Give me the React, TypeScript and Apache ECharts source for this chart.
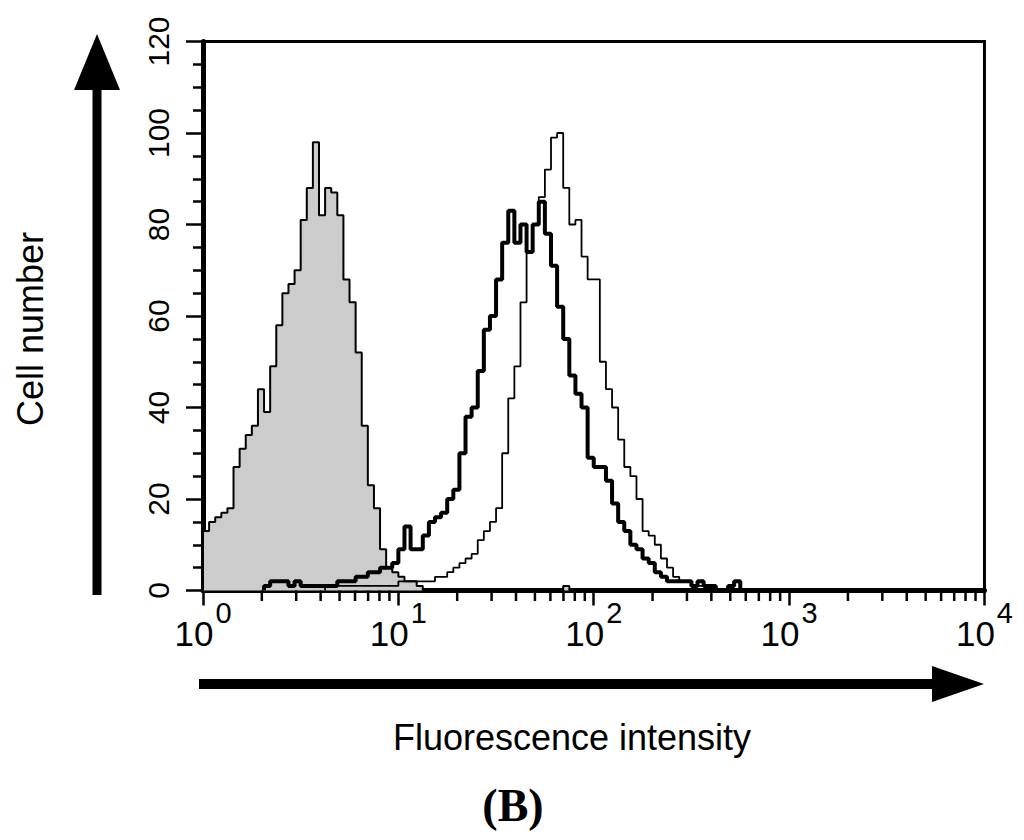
import React, { useEffect, useRef } from "react";
import * as echarts from "echarts";

// Flow cytometry histogram data: 64 channels per decade, read in bins of 2 channels
const CHANNELS_PER_DECADE = 64;
const BIN_WIDTH = 2;

// Isotype control (grey filled)
const grayStartChannel = 0;
const grayCounts = [
  13, 15, 16, 17, 18, 27, 31, 34, 36, 44,
  39, 49, 58, 65, 67, 70, 81, 88, 98, 82,
  88, 87, 82, 68, 63, 52, 36, 23, 18, 9,
  5, 4, 3, 2, 2, 1, 0, 0, 0, 0,
  0, 0, 0, 0, 0, 0, 0, 0, 0, 0,
  0, 0, 0, 0, 0, 0, 0, 0, 0, 1,
];

// Thick black histogram
const thickStartChannel = 20;
const thickCounts = [
  1, 2, 2, 2, 1, 2, 1, 1, 1, 1,
  1, 1, 2, 2, 2, 3, 3, 4, 4, 5,
  5, 6, 9, 14, 9, 9, 12, 15, 16, 17,
  20, 22, 30, 38, 40, 48, 57, 60, 68, 76,
  83, 76, 80, 74, 80, 85, 78, 71, 62, 55,
  47, 43, 40, 29, 27, 27, 24, 19, 15, 13,
  10, 9, 7, 6, 4, 3, 2, 2, 2, 2,
  1, 2, 1, 1, 0, 0, 1, 2, 0,
];

// Thin black histogram
const thinStartChannel = 40;
const thinCounts = [
  1, 1, 1, 1, 1, 1, 1, 1, 1, 1,
  1, 1, 2, 2, 2, 2, 2, 2, 3, 3,
  4, 5, 6, 7, 8, 11, 13, 15, 18, 30,
  42, 49, 63, 74, 80, 86, 92, 99, 100, 88,
  80, 81, 73, 68, 68, 50, 44, 40, 33, 27,
  25, 20, 13, 12, 10, 7, 5, 3, 2, 2,
  1, 1, 1, 0,
];

const xMin = 1;
const xMax = 10000;
const yMin = 0;
const yMax = 120;
const yInterval = 20;
const xMinorTicks = [
  2, 3, 4, 5, 6, 7, 8, 9,
  20, 30, 40, 50, 60, 70, 80, 90,
  200, 300, 400, 500, 600, 700, 800, 900,
  2000, 3000, 4000, 5000, 6000, 7000, 8000, 9000,
];

const yTitle = "Cell number";
const xTitle = "Fluorescence intensity";
const panelLabel = "(B)";

function toSteps(start: number, counts: number[]) {
  const pos = (ch: number) => Math.pow(10, ch / CHANNELS_PER_DECADE);
  const pts: number[][] = [[pos(start), 0]];
  counts.forEach((c, k) => pts.push([pos(start + k * BIN_WIDTH), c]));
  pts.push([pos(start + counts.length * BIN_WIDTH), 0]);
  return pts;
}

const SANS = '"Liberation Sans", Arial, Helvetica, sans-serif';
const SERIF = '"Liberation Serif", "Times New Roman", serif';

export default function App() {
  const ref = useRef<HTMLDivElement>(null);
  useEffect(() => {
    const chart = echarts.init(ref.current!, null, { renderer: "svg" });
    const option: any = {
      animation: false,
      backgroundColor: "#ffffff",
      grid: {
        left: 195,
        top: 33.5,
        width: 783.5,
        height: 549,
        show: true,
        borderColor: "#000",
        borderWidth: 3,
        backgroundColor: "transparent",
      },
      xAxis: {
        type: "log",
        logBase: 10,
        min: xMin,
        max: xMax,
        splitNumber: 4,
        axisLine: { show: true, onZero: false, lineStyle: { color: "#000", width: 5 } },
        axisTick: { show: true, length: 15, lineStyle: { color: "#000", width: 2.5 } },
        splitLine: { show: false },
        axisLabel: {
          show: true,
          margin: 8,
          showMinLabel: true,
          showMaxLabel: true,
          formatter: (v: number) => `{a|10}{b|${Math.round(Math.log10(v))}}`,
          rich: {
            a: { fontSize: 35, fontFamily: SANS, color: "#000", verticalAlign: "bottom", lineHeight: 52 },
            b: { fontSize: 29, fontFamily: SANS, color: "#000", verticalAlign: "top", lineHeight: 52, padding: [0, 0, 0, 2] },
          },
        },
      },
      yAxis: {
        type: "value",
        min: yMin,
        max: yMax,
        interval: yInterval,
        axisLine: { show: true, lineStyle: { color: "#000", width: 5 } },
        axisTick: { show: true, length: 17, lineStyle: { color: "#000", width: 2.5 } },
        minorTick: { show: true, splitNumber: 4, length: 10, lineStyle: { color: "#000", width: 2.5 } },
        splitLine: { show: false },
        axisLabel: { rotate: 90, margin: 30, fontSize: 30, fontFamily: SANS, color: "#000" },
      },
      series: [
        {
          type: "line",
          step: "end",
          data: toSteps(grayStartChannel, grayCounts),
          symbol: "none",
          lineStyle: { color: "#000", width: 2 },
          areaStyle: { color: "#cccccc", opacity: 1 },
          z: 2,
          silent: true,
        },
        {
          type: "line",
          step: "end",
          data: toSteps(thinStartChannel, thinCounts),
          symbol: "none",
          lineStyle: { color: "#000", width: 1.8 },
          z: 3,
          silent: true,
        },
        {
          type: "line",
          step: "end",
          data: toSteps(thickStartChannel, thickCounts),
          symbol: "none",
          lineStyle: { color: "#000", width: 4 },
          z: 4,
          silent: true,
        },
        {
          type: "custom",
          coordinateSystem: "cartesian2d",
          silent: true,
          clip: false,
          data: xMinorTicks.map((v) => [v, 0]),
          renderItem: (params: any, api: any) => {
            const p = api.coord([api.value(0), 0]);
            return {
              type: "line",
              shape: { x1: p[0], y1: p[1], x2: p[0], y2: p[1] + 10.5 },
              style: { stroke: "#000", lineWidth: 2.5 },
            };
          },
          z: 5,
        },
      ],
      graphic: [
        {
          type: "polygon",
          shape: {
            points: [
              [84.5, 587], [84.5, 82], [66, 82], [89, 26], [112, 82], [93.5, 82], [93.5, 587],
            ],
          },
          style: { fill: "#000" },
        },
        {
          type: "polygon",
          shape: {
            points: [
              [191, 671], [924, 671], [924, 658], [976, 676], [924, 694], [924, 681], [191, 681],
            ],
          },
          style: { fill: "#000" },
        },
        {
          type: "text",
          x: 22,
          y: 321,
          rotation: Math.PI / 2,
          style: {
            text: yTitle,
            fill: "#000",
            font: `36px ${SANS}`,
            textAlign: "center",
            textVerticalAlign: "middle",
          },
        },
        {
          type: "text",
          x: 564,
          y: 729,
          style: {
            text: xTitle,
            fill: "#000",
            font: `36px ${SANS}`,
            textAlign: "center",
            textVerticalAlign: "middle",
          },
        },
        {
          type: "text",
          x: 505,
          y: 797,
          style: {
            text: panelLabel,
            fill: "#000",
            font: `bold 46px ${SERIF}`,
            textAlign: "center",
            textVerticalAlign: "middle",
          },
        },
      ],
    };
    chart.setOption(option);
    return () => chart.dispose();
  }, []);
  return <div ref={ref} style={{ width: 1008, height: 824 }} />;
}
